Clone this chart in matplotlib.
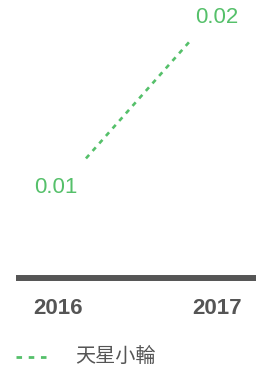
import matplotlib
matplotlib.use("Agg")
import matplotlib.pyplot as plt
import matplotlib.transforms as mtransforms

# data
years = ["2016", "2017"]
values = [0.01, 0.02]
value_labels = ["0.01", "0.02"]
series_name = "天星小輪"

green = "#55c06a"
grey = "#555555"
plt.rcParams['font.family'] = ['Liberation Sans', 'Noto Sans CJK TC', 'DejaVu Sans']

fig = plt.figure(figsize=(2.56, 3.72), dpi=100)
ax = fig.add_axes([16/256, 94/372, 240/256, 278/372])

xs = list(range(len(years)))
ax.plot(xs, values, color=green, lw=1.9, dashes=(1.8, 2.0))

ax.set_xlim(-0.66, 1.604)
ax.set_ylim(0, 0.02325)
for s in ["top", "right", "left"]:
    ax.spines[s].set_visible(False)
ax.spines["bottom"].set_color(grey)
ax.spines["bottom"].set_linewidth(4.3)
ax.spines["bottom"].set_capstyle("butt")
ax.set_yticks([])
ax.set_xticks([])

# value labels
offsets = [(-30, -29), (25, 21)]
for x, v, lab, (dx, dy) in zip(xs, values, value_labels, offsets):
    ax.annotate(lab, (x, v), xytext=(dx * 0.72, dy * 0.72), textcoords="offset points",
                ha="center", va="center", color=green, fontsize=16)

# category labels
tick_dx = [-28, 25]
for x, lab, dx in zip(xs, years, tick_dx):
    tr = mtransforms.blended_transform_factory(ax.transData, ax.transAxes)
    ax.annotate(lab, (x, 0), xycoords=tr, xytext=(dx * 0.72, -30 * 0.72),
                textcoords="offset points", ha="center", va="center",
                color=grey, fontsize=16, fontweight="bold")

# legend
fig.lines.append(plt.Line2D([16/256, 52/256], [15.5/372, 15.5/372], transform=fig.transFigure,
                            color=green, lw=2.0, dashes=(2, 2.4)))
fig.text(75/256, 16/372, series_name, ha="left", va="center", color=grey, fontsize=14.5)

fig.savefig("out.png", dpi=100)
